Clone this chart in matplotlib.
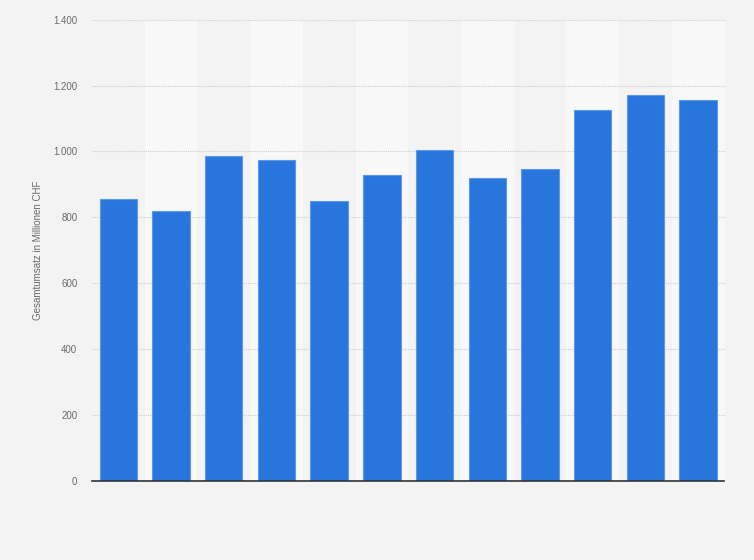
import matplotlib
matplotlib.use("Agg")
import matplotlib.pyplot as plt
from matplotlib.ticker import FuncFormatter, FixedLocator

categories = ["1", "2", "3", "4", "5", "6", "7", "8", "9", "10", "11", "12"]
values = [855, 818, 986, 973, 848, 927, 1003, 918, 948, 1125, 1170, 1156]
yticks = [0, 200, 400, 600, 800, 1000, 1200, 1400]
ylabel = "Gesamtumsatz in Millionen CHF"

plt.rcParams['font.family'] = ['Liberation Sans', 'DejaVu Sans']

fig = plt.figure(figsize=(7.54, 5.60), dpi=100)
fig.patch.set_facecolor('#f3f3f3')
ax = fig.add_axes([92/754, 1 - 480.7/560, (724.5-92)/754, (480.7-19.7)/560])
ax.set_facecolor('#f3f3f3')

x = list(range(len(categories)))
# alternating column bands
for i in x:
    if i % 2 == 1:
        ax.axvspan(i - 0.5, i + 0.5, color='#f8f8f8', zorder=0, lw=0)

ax.bar(x, values, width=0.71, color='#2876dd', edgecolor='#5c9ae8', linewidth=0.8, zorder=3)

ax.set_xlim(-0.5, len(categories) - 0.5)
ax.set_ylim(0, 1400)
ax.yaxis.set_major_locator(FixedLocator(yticks))
ax.yaxis.set_major_formatter(FuncFormatter(lambda v, p: f"{int(v):,}".replace(",", ".")))
ax.set_xticks(x)
ax.set_xticklabels([])
ax.tick_params(axis='x', length=0)
ax.tick_params(axis='y', length=0, labelsize=7, labelcolor='#6a6a6a', pad=10.5)

ax.grid(axis='y', color='#cccccc', linestyle=(0, (1, 1)), linewidth=0.8, zorder=1)
ax.set_axisbelow(True)
for s in ['top', 'right', 'left']:
    ax.spines[s].set_visible(False)
ax.spines['bottom'].set_color('#333333')
ax.spines['bottom'].set_linewidth(1.2)
ax.spines['bottom'].set_zorder(4)

ax.set_ylabel(ylabel, fontsize=7, color='#6a6a6a')
ax.yaxis.set_label_coords(-0.0775, 0.5)

fig.savefig("out.png", dpi=100, facecolor=fig.get_facecolor())
